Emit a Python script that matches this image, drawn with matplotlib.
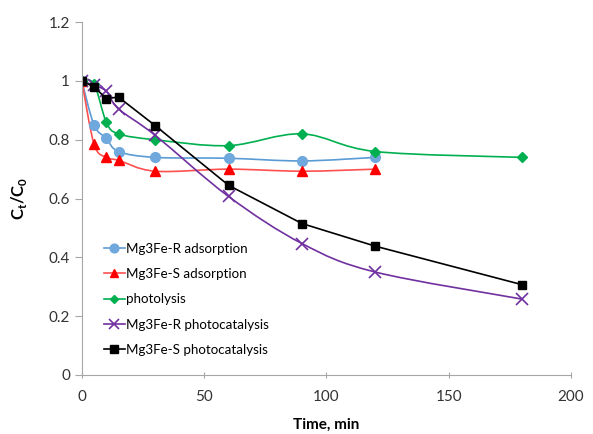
import numpy as np
import matplotlib
matplotlib.use('Agg')
import matplotlib.pyplot as plt
from matplotlib.path import Path
from matplotlib.patches import PathPatch
from matplotlib.lines import Line2D

plt.rcParams['font.family'] = ['Lato', 'DejaVu Sans']

# data
t_ads = [0, 5, 10, 15, 30, 60, 90, 120]
r_ads = [1.0, 0.85, 0.805, 0.76, 0.74, 0.737, 0.728, 0.74]
s_ads = [1.0, 0.785, 0.74, 0.73, 0.693, 0.70, 0.693, 0.70]

t_long = [0, 5, 10, 15, 30, 60, 90, 120, 180]
photolysis = [1.0, 0.99, 0.86, 0.82, 0.80, 0.78, 0.82, 0.76, 0.74]
r_cat = [1.0, 0.985, 0.965, 0.905, 0.815, 0.607, 0.447, 0.35, 0.258]
s_cat = [1.0, 0.98, 0.94, 0.945, 0.848, 0.645, 0.515, 0.438, 0.307]


def smooth_path(x, y):
    # Excel style smoothed line: cubic bezier through the points
    p = np.column_stack([x, y]).astype(float)
    verts = [p[0]]
    codes = [Path.MOVETO]
    n = len(p)
    for i in range(n - 1):
        p0 = p[i - 1] if i > 0 else p[i]
        p3 = p[i + 2] if i + 2 < n else p[i + 1]
        c1 = p[i] + (p[i + 1] - p0) / 6.0
        c2 = p[i + 1] - (p3 - p[i]) / 6.0
        verts += [c1, c2, p[i + 1]]
        codes += [Path.CURVE4] * 3
    return Path(verts, codes)


fig = plt.figure(figsize=(5.93, 4.34), dpi=100)
ax = fig.add_axes([0.138, 0.136, 0.825, 0.813])

series = [
    (t_ads, r_ads, 'Mg3Fe-R adsorption', '#5B9BD5', 'o', '#6FA8DC', 7, True),
    (t_ads, s_ads, 'Mg3Fe-S adsorption', '#FF5050', '^', '#FF0000', 7, True),
    (t_long, photolysis, 'photolysis', '#00B050', 'D', '#00B050', 5, True),
    (t_long, r_cat, 'Mg3Fe-R photocatalysis', '#7030A0', 'x', '#7030A0', 8, True),
    (t_long, s_cat, 'Mg3Fe-S photocatalysis', '#000000', 's', '#000000', 6, False),
]

handles = []
for x, y, lab, lc, mk, mc, ms, smooth in series:
    if smooth:
        ax.add_patch(PathPatch(smooth_path(x, y), fill=False, edgecolor=lc, lw=1.2))
    else:
        ax.plot(x, y, color=lc, lw=1.2)
    if mk == 'x':
        ax.plot(x, y, ls='none', marker=mk, ms=ms, mew=1.2, color=mc)
    else:
        ax.plot(x, y, ls='none', marker=mk, ms=ms, mfc=mc, mec=mc)
    handles.append(Line2D([0], [0], color=lc, lw=1.2, marker=mk, ms=ms * 0.9,
                          mfc=mc, mec=mc, mew=1.2 if mk == 'x' else 1.0, label=lab))

ax.set_xlim(0, 200)
ax.set_ylim(0, 1.2)
ax.set_xticks([0, 50, 100, 150, 200])
ax.set_yticks([0, 0.2, 0.4, 0.6, 0.8, 1.0, 1.2])
ax.set_yticklabels(['0', '0.2', '0.4', '0.6', '0.8', '1', '1.2'])

for s in ['top', 'right']:
    ax.spines[s].set_visible(False)
for s in ['left', 'bottom']:
    ax.spines[s].set_color('#A6A6A6')
ax.tick_params(axis='both', colors='#A6A6A6', labelcolor='#333333', labelsize=11, length=5)
ax.tick_params(axis='x', direction='inout', pad=8)

ax.set_xlabel('Time, min', fontsize=11, fontweight='bold', labelpad=10)
ax.set_ylabel('C$_\\mathregular{t}$/C$_\\mathregular{0}$', fontsize=12, fontweight='bold', labelpad=14)

ax.legend(handles=handles, loc='lower left', bbox_to_anchor=(0.02, 0.02), frameon=False,
          fontsize=9.6, handlelength=1.6, handletextpad=0.1, labelspacing=1.0, borderaxespad=0.5)

fig.savefig('out.png', dpi=100)
